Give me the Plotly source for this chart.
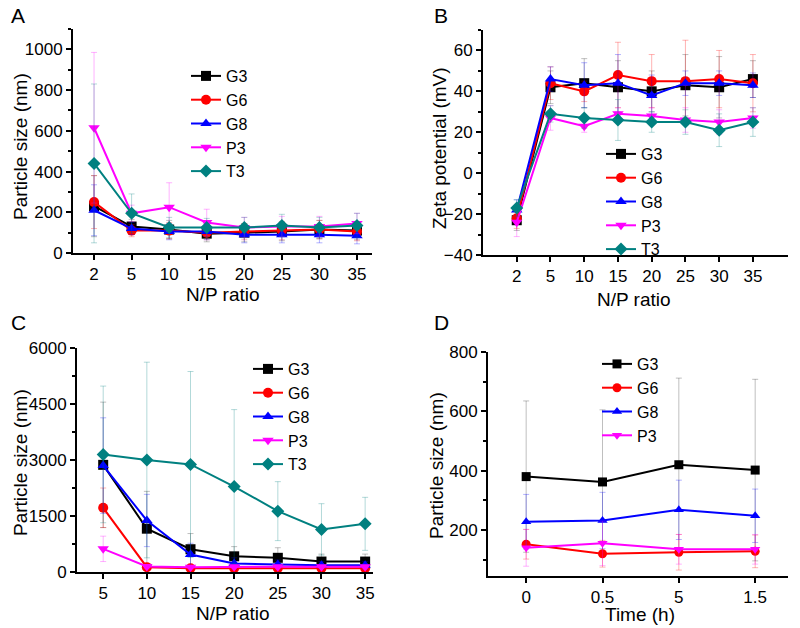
import plotly.graph_objects as go

W, H = 800, 628

# ---------------- data ----------------
names = ["G3", "G6", "G8", "P3", "T3"]
colors = ["#000000", "#FF0000", "#0000FF", "#FF00FF", "#008080"]
err_colors = ["rgba(0,0,0,0.25)", "rgba(255,0,0,0.3)", "rgba(0,0,255,0.3)",
              "rgba(255,0,255,0.3)", "rgba(0,128,128,0.3)"]
symbols = ["square", "circle", "triangle-up", "triangle-down", "diamond"]

np_ratio_A = ["2", "5", "10", "15", "20", "25", "30", "35"]
size_A = {
    "G3": [230, 130, 115, 95, 100, 105, 115, 110],
    "G6": [250, 110, 110, 100, 105, 110, 115, 105],
    "G8": [210, 120, 105, 105, 90, 90, 90, 85],
    "P3": [615, 195, 225, 150, 125, 130, 130, 145],
    "T3": [440, 195, 125, 125, 125, 135, 125, 135],
}
size_A_err = {
    "G3": [150, 35, 45, 40, 45, 45, 45, 45],
    "G6": [130, 30, 40, 35, 40, 45, 45, 45],
    "G8": [125, 30, 40, 40, 40, 40, 40, 40],
    "P3": [370, 40, 120, 65, 50, 50, 50, 50],
    "T3": [390, 95, 50, 45, 50, 55, 50, 60],
}

np_ratio_B = ["2", "5", "10", "15", "20", "25", "30", "35"]
zeta_B = {
    "G3": [-23, 42, 44, 42, 40, 43, 42, 46],
    "G6": [-22, 44, 40, 48, 45, 45, 46, 44],
    "G8": [-18, 46, 43, 44, 38, 44, 44, 43],
    "P3": [-24, 27, 23, 29, 28, 26, 25, 27],
    "T3": [-17, 29, 27, 26, 25, 25, 21, 25],
}
zeta_B_err = {
    "G3": [5, 8, 12, 13, 10, 15, 15, 9],
    "G6": [5, 8, 5, 16, 13, 20, 14, 14],
    "G8": [5, 6, 11, 14, 10, 6, 6, 6],
    "P3": [7, 6, 3, 3, 4, 6, 6, 5],
    "T3": [4, 4, 5, 10, 5, 6, 8, 7],
}

np_ratio_C = ["5", "10", "15", "20", "25", "30", "35"]
size_C = {
    "G3": [2870, 1160, 610, 420, 380, 280, 280],
    "G6": [1720, 130, 100, 100, 100, 100, 100],
    "G8": [2850, 1380, 470, 230, 200, 180, 180],
    "P3": [620, 150, 130, 140, 140, 140, 140],
    "T3": [3150, 3000, 2880, 2290, 1630, 1140, 1290],
}
size_C_err = {
    "G3": [1680, 1000, 420, 260, 270, 200, 200],
    "G6": [530, 50, 30, 30, 30, 30, 30],
    "G8": [1280, 700, 300, 150, 120, 100, 100],
    "P3": [340, 50, 40, 40, 40, 40, 40],
    "T3": [1830, 2620, 2490, 2060, 790, 690, 710],
}

time_D = ["0", "0.5", "5", "1.5"]
size_D = {
    "G3": [380, 362, 420, 402],
    "G6": [152, 120, 125, 128],
    "G8": [228, 232, 268, 248],
    "P3": [140, 155, 135, 135],
}
size_D_err = {
    "G3": [255, 243, 292, 306],
    "G6": [50, 45, 60, 55],
    "G8": [92, 95, 100, 90],
    "P3": [62, 75, 50, 50],
}

# ---------------- figure ----------------
FONT = "Liberation Sans, Arial, sans-serif"
fig = go.Figure()

panels = [
    ("x", "y", "legend", np_ratio_A, size_A, size_A_err, 10),
    ("x2", "y2", "legend2", np_ratio_B, zeta_B, zeta_B_err, 10),
    ("x3", "y3", "legend3", np_ratio_C, size_C, size_C_err, 10),
    ("x4", "y4", "legend4", time_D, size_D, size_D_err, 9),
]

for xa, ya, lg, cats, vals, errs, msz in panels:
    for i, n in enumerate(names):
        if n not in vals:
            continue
        fig.add_trace(go.Scatter(
            x=cats, y=vals[n], name=n, xaxis=xa, yaxis=ya, legend=lg,
            mode="lines+markers",
            line=dict(color=colors[i], width=2),
            marker=dict(color=colors[i], symbol=symbols[i], size=msz),
            error_y=dict(type="data", array=errs[n], visible=True,
                         color=err_colors[i], thickness=1, width=3),
        ))


def px(x):
    return x / W


def py(y):
    return 1 - y / H


base_axis = dict(showline=True, linecolor="black", linewidth=2, ticks="outside",
                 ticklen=5, tickwidth=2, tickcolor="black", showgrid=False,
                 zeroline=False, automargin=False,
                 tickfont=dict(family=FONT, size=17, color="black"))
xax = dict(base_axis, type="category")
yax = dict(base_axis)
minor_common = dict(ticks="outside", ticklen=3, tickcolor="black", tickwidth=1.5)

fig.update_layout(
    width=W, height=H, margin=dict(l=0, r=0, t=0, b=0, pad=0, autoexpand=False),
    paper_bgcolor="white", plot_bgcolor="white",
    font=dict(family=FONT, color="black"),
    xaxis=dict(domain=[px(73), px(372)], anchor="y", range=[-0.56, 7.4], **xax),
    yaxis=dict(domain=[py(253), py(29)], anchor="x", range=[0, 1100],
               tickvals=[0, 200, 400, 600, 800, 1000],
               minor=dict(dtick=100, **minor_common), **yax),
    xaxis2=dict(domain=[px(483), px(788)], anchor="y2", range=[-1.0, 8.04], **xax),
    yaxis2=dict(domain=[py(255), py(30)], anchor="x2", range=[-40, 70],
                tickvals=[-40, -20, 0, 20, 40, 60],
                minor=dict(dtick=10, **minor_common), **yax),
    xaxis3=dict(domain=[px(77), px(373)], anchor="y3", range=[-0.6, 6.18], **xax),
    yaxis3=dict(domain=[py(572), py(348)], anchor="x3", range=[0, 6000],
                tickvals=[0, 1500, 3000, 4500, 6000],
                minor=dict(dtick=750, **minor_common), **yax),
    xaxis4=dict(domain=[px(488), px(788)], anchor="y4", range=[-0.5, 3.43], **xax),
    yaxis4=dict(domain=[py(576), py(352)], anchor="x4", range=[45, 800],
                tickvals=[200, 400, 600, 800],
                minor=dict(tick0=0, dtick=100, **minor_common), **yax),
    showlegend=True,
)

leg_common = dict(bgcolor="rgba(0,0,0,0)", borderwidth=0, xanchor="left", yanchor="top",
                  font=dict(family=FONT, size=16, color="black"), tracegroupgap=0,
                  itemsizing="trace")
fig.update_layout(
    legend=dict(x=px(186), y=py(59), **leg_common),
    legend2=dict(x=px(601), y=py(137), **leg_common),
    legend3=dict(x=px(248), y=py(352), **leg_common),
    legend4=dict(x=px(597), y=py(347), **leg_common),
)

TF = dict(family=FONT, size=19, color="black")
LF = dict(family=FONT, size=21, color="black")
annots = [
    dict(text="A", x=px(18), y=py(15), font=LF),
    dict(text="B", x=px(441), y=py(15), font=LF),
    dict(text="C", x=px(18), y=py(322), font=LF),
    dict(text="D", x=px(441), y=py(322), font=LF),
    dict(text="Particle size (nm)", x=px(20), y=py(147), textangle=-90, font=TF),
    dict(text="N/P ratio", x=px(223), y=py(294), font=TF),
    dict(text="Zeta potential (mV)", x=px(440), y=py(148), textangle=-90, font=TF),
    dict(text="N/P ratio", x=px(634), y=py(299), font=TF),
    dict(text="Particle size (nm)", x=px(20), y=py(463), textangle=-90, font=TF),
    dict(text="N/P ratio", x=px(233), y=py(613), font=TF),
    dict(text="Particle size (nm)", x=px(437), y=py(466), textangle=-90, font=TF),
    dict(text="Time (h)", x=px(640), y=py(614), font=TF),
]
for a in annots:
    a.update(xref="paper", yref="paper", showarrow=False, xanchor="center", yanchor="middle")
fig.update_layout(annotations=annots)

fig.write_html("out.html", config={"displayModeBar": False},
               post_script="document.body.style.margin='0px';")
